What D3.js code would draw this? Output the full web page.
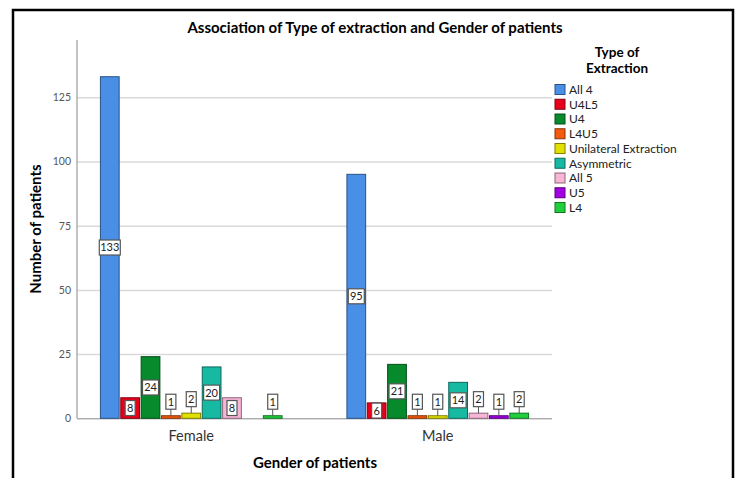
<!DOCTYPE html>
<html>
<head>
<meta charset="utf-8">
<script src="https://cdn.jsdelivr.net/npm/d3@7"></script>
<style>
  body { margin: 0; background: #fff; }
  text { font-family: Lato, "DejaVu Sans", sans-serif; }
</style>
</head>
<body>
<div class="chartsWrapper"></div>
<script>
// data
var genders = ["Female", "Male"]
var types = ["All 4", "U4L5", "U4", "L4U5", "Unilateral Extraction", "Asymmetric", "All 5", "U5", "L4"]
var femaleCounts = [133, 8, 24, 1, 2, 20, 8, 0, 1]
var maleCounts = [95, 6, 21, 1, 1, 14, 2, 1, 2]
var typeColors = ["#4a8fe6", "#e8001b", "#078a2c", "#f35a0c", "#e2e000", "#17b9a3", "#f8b6d6", "#a100e2", "#1fcf3c"]
var yTicks = [0, 25, 50, 75, 100, 125]

var counts = { Female: femaleCounts, Male: maleCounts }

var width = 735, height = 478

var svg = d3.select('.chartsWrapper').append('svg')
    .attr('width', width)
    .attr('height', height)

// outer frame
svg.append('path')
    .attr('d', 'M13,' + (height + 5) + 'V10H733V' + (height + 5))
    .attr('fill', 'none')
    .attr('stroke', '#000')
    .attr('stroke-width', 2.5)

var y = d3.scaleLinear().domain([0, 147.3]).range([418.3, 40])

var x0 = d3.scaleBand().domain(genders)
    .range([77, 552])
    .paddingInner(0.263)
    .paddingOuter(0.095)

var x1 = d3.scaleBand().domain(types)
    .range([0, x0.bandwidth()])
    .paddingInner(0.08)

var color = d3.scaleOrdinal().domain(types).range(typeColors)

// gridlines + y axis
var yAxis = d3.axisLeft(y).tickValues(yTicks).tickSize(-(552 - 77)).tickPadding(6)
var gy = svg.append('g').attr('transform', 'translate(77,0)').call(yAxis)
gy.select('.domain').remove()
gy.selectAll('.tick line').attr('stroke', '#d9d9d9').attr('stroke-width', 1.5)
gy.selectAll('.tick text').attr('fill', '#555').style('font-size', '10.5px')
gy.selectAll('.tick').filter(function(d) { return d === 0 }).select('line').attr('stroke', '#888').attr('stroke-width', 1)

svg.append('line')
    .attr('x1', 77).attr('x2', 77)
    .attr('y1', 40).attr('y2', 418.3)
    .attr('stroke', '#888')

// x axis labels
var gx = svg.append('g').attr('transform', 'translate(0,418.3)')
    .call(d3.axisBottom(x0).tickSize(0).tickPadding(12))
gx.select('.domain').remove()
gx.selectAll('.tick text').attr('fill', '#333').style('font-size', '14.5px')

// bars
var rows = []
genders.forEach(function(g) {
    types.forEach(function(t, i) {
        rows.push({ gender: g, type: t, value: counts[g][i] })
    })
})

var bars = svg.selectAll('.bar')
    .data(rows.filter(function(d) { return d.value > 0 }))
    .enter()
    .append('g')
    .attr('class', 'bar')

bars.append('rect')
    .attr('x', function(d) { return x0(d.gender) + x1(d.type) })
    .attr('y', function(d) { return y(d.value) })
    .attr('width', x1.bandwidth())
    .attr('height', function(d) { return y(0) - y(d.value) })
    .attr('fill', function(d) { return color(d.type) })
    .attr('stroke', function(d) { return d3.color(color(d.type)).darker(1.6) })
    .attr('stroke-width', 1)

// value labels: centred in bar, or above with a leader when bar is tiny
bars.each(function(d) {
    var g = d3.select(this)
    var cx = x0(d.gender) + x1(d.type) + x1.bandwidth() / 2
    var small = (y(0) - y(d.value)) < 8
    var cy = small ? y(d.value) - 14 : (y(d.value) + y(0)) / 2
    var s = String(d.value)
    var w = s.length === 1 ? 10 : (s.length === 2 ? 16 : 21)
    if (small) {
        g.append('line')
            .attr('x1', cx).attr('x2', cx)
            .attr('y1', cy + 7).attr('y2', y(d.value))
            .attr('stroke', '#555')
    }
    g.append('rect')
        .attr('x', cx - w / 2).attr('y', cy - 7.5)
        .attr('width', w).attr('height', 15)
        .attr('fill', '#fff')
        .attr('stroke', '#555')
        .attr('stroke-width', 1.2)
    g.append('text')
        .attr('x', cx).attr('y', cy)
        .attr('dy', '0.36em')
        .attr('text-anchor', 'middle')
        .attr('fill', '#222')
        .style('font-size', '11px')
        .text(s)
})

// titles
svg.append('text')
    .attr('x', 375).attr('y', 33)
    .attr('text-anchor', 'middle')
    .style('font-size', '15px').style('font-weight', 'bold')
    .text('Association of Type of extraction and Gender of patients')

svg.append('text')
    .attr('transform', 'translate(41,229) rotate(-90)')
    .attr('text-anchor', 'middle')
    .style('font-size', '15px').style('font-weight', 'bold')
    .text('Number of patients')

svg.append('text')
    .attr('x', 315).attr('y', 468)
    .attr('text-anchor', 'middle')
    .style('font-size', '15px').style('font-weight', 'bold')
    .text('Gender of patients')

// legend
var legend = svg.append('g').attr('transform', 'translate(555,0)')
legend.append('text')
    .attr('x', 62).attr('y', 57)
    .attr('text-anchor', 'middle')
    .style('font-size', '13.5px').style('font-weight', 'bold')
    .text('Type of')
legend.append('text')
    .attr('x', 62).attr('y', 73)
    .attr('text-anchor', 'middle')
    .style('font-size', '13.5px').style('font-weight', 'bold')
    .text('Extraction')

var item = legend.selectAll('.item')
    .data(types)
    .enter()
    .append('g')
    .attr('class', 'item')
    .attr('transform', function(d, i) { return 'translate(0,' + (84.5 + i * 14.75) + ')' })

item.append('rect')
    .attr('width', 10).attr('height', 10)
    .attr('fill', function(d) { return color(d) })
    .attr('stroke', function(d) { return d3.color(color(d)).darker(1.6) })

item.append('text')
    .attr('x', 14).attr('y', 5)
    .attr('dy', '0.36em')
    .attr('fill', '#222')
    .style('font-size', '12px')
    .text(function(d) { return d })
</script>
</body>
</html>
